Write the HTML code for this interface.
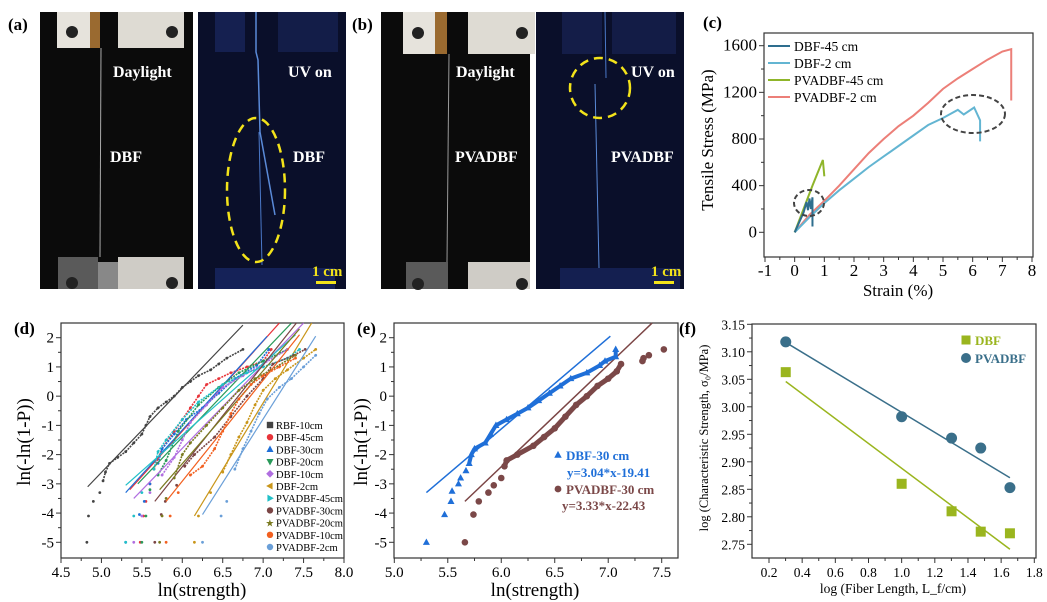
<!DOCTYPE html>
<html><head><meta charset="utf-8"><style>
html,body{margin:0;padding:0;background:#fff;}
svg{display:block;font-family:"Liberation Serif",serif;}
</style></head><body>
<svg id="fig" width="1047" height="602" viewBox="0 0 1047 602" xmlns="http://www.w3.org/2000/svg">
<!-- Photos -->
<g>
<rect x="40" y="12" width="153" height="277" fill="#0b0b0b"/>
<rect x="57" y="12" width="33" height="36" fill="#e6e3dc"/><rect x="90" y="12" width="10" height="36" fill="#9a6a30"/><rect x="118" y="12" width="66" height="36" fill="#dedbd3"/>
<circle cx="72" cy="32" r="6" fill="#222"/><circle cx="172" cy="32" r="6" fill="#222"/>
<rect x="58" y="257" width="40" height="32" fill="#5a5a5a"/><rect x="118" y="257" width="66" height="32" fill="#cfccc6"/><rect x="98" y="262" width="20" height="27" fill="#888"/>
<circle cx="72" cy="283" r="6" fill="#222"/><circle cx="172" cy="283" r="6" fill="#222"/>
<line x1="101" y1="48" x2="100" y2="257" stroke="#aaa" stroke-width="1"/>
<text x="113" y="77" fill="#fff" font-size="16" font-weight="bold">Daylight</text>
<text x="110" y="162" fill="#fff" font-size="16" font-weight="bold">DBF</text>
</g>
<g>
<rect x="198" y="12" width="148" height="277" fill="#0a0f2a"/>
<rect x="215" y="12" width="30" height="40" fill="#152050"/><rect x="278" y="12" width="60" height="40" fill="#131d48"/>
<rect x="215" y="268" width="120" height="21" fill="#152258"/>
<polyline points="256,12 256,52 258,60 260,132 275,215" fill="none" stroke="#5a8ad8" stroke-width="1.5"/>
<line x1="259" y1="132" x2="262" y2="265" stroke="#4a78c8" stroke-width="1"/>
<ellipse cx="256" cy="190" rx="29" ry="72" fill="none" stroke="#f3e31a" stroke-width="2.5" stroke-dasharray="9,6"/>
<text x="288" y="77" fill="#fff" font-size="16" font-weight="bold">UV on</text>
<text x="293" y="162" fill="#fff" font-size="16" font-weight="bold">DBF</text>
<text x="312" y="276" fill="#f3e31a" font-size="15" font-weight="bold">1 cm</text>
<rect x="316" y="281" width="20" height="3" fill="#f3e31a"/>
</g>
<g>
<rect x="381" y="12" width="149" height="277" fill="#0b0b0b"/>
<rect x="403" y="12" width="32" height="42" fill="#e6e3dc"/><rect x="435" y="12" width="12" height="42" fill="#9a6a30"/><rect x="468" y="12" width="67" height="42" fill="#dedbd3"/>
<circle cx="418" cy="33" r="6" fill="#222"/><circle cx="522" cy="33" r="6" fill="#222"/>
<rect x="406" y="262" width="42" height="27" fill="#5a5a5a"/><rect x="468" y="262" width="62" height="27" fill="#cfccc6"/>
<circle cx="418" cy="284" r="6" fill="#222"/><circle cx="522" cy="284" r="6" fill="#222"/>
<line x1="449" y1="54" x2="447" y2="262" stroke="#999" stroke-width="1"/>
<text x="456" y="77" fill="#fff" font-size="16" font-weight="bold">Daylight</text>
<text x="455" y="162" fill="#fff" font-size="16" font-weight="bold">PVADBF</text>
</g>
<g>
<rect x="536" y="12" width="148" height="277" fill="#0a0f2a"/>
<rect x="562" y="12" width="40" height="42" fill="#141d48"/><rect x="612" y="12" width="64" height="42" fill="#131c46"/>
<rect x="560" y="268" width="120" height="21" fill="#141f50"/>
<line x1="605" y1="12" x2="606" y2="78" stroke="#4a78c8" stroke-width="1"/>
<line x1="595" y1="84" x2="599" y2="268" stroke="#5a8ad8" stroke-width="1"/>
<ellipse cx="600" cy="88" rx="30" ry="30" fill="none" stroke="#f3e31a" stroke-width="2.5" stroke-dasharray="9,6"/>
<text x="631" y="77" fill="#fff" font-size="16" font-weight="bold">UV on</text>
<text x="611" y="162" fill="#fff" font-size="16" font-weight="bold">PVADBF</text>
<text x="651" y="276" fill="#f3e31a" font-size="15" font-weight="bold">1 cm</text>
<rect x="654" y="281" width="20" height="3" fill="#f3e31a"/>
</g>
<text x="8" y="30" font-size="17" font-weight="bold">(a)</text>
<text x="352" y="30" font-size="17" font-weight="bold">(b)</text>
<text x="703" y="28" font-size="17" font-weight="bold">(c)</text>
<text x="14" y="334" font-size="17" font-weight="bold">(d)</text>
<text x="357" y="334" font-size="17" font-weight="bold">(e)</text>
<text x="679" y="334" font-size="17" font-weight="bold">(f)</text>
<g id="charts"></g>
</svg>
<script>
// ---- Panel (c) data ----
const cNames = ["DBF-45 cm","DBF-2 cm","PVADBF-45 cm","PVADBF-2 cm"];
const cColors = ["#2e6e8e","#63b5d2","#8fb52a","#ec7f78"];
const cDbf45X = [0,0.3,0.4,0.45,0.5,0.55,0.6,0.6];
const cDbf45Y = [0,170,260,190,290,200,300,50];
const cDbf2X = [0,0.5,1,1.5,2,2.5,3,3.5,4,4.5,5,5.5,5.7,6.05,6.25,6.25];
const cDbf2Y = [0,130,250,360,460,560,650,740,830,920,980,1050,1010,1070,960,780];
const cPva45X = [0,0.3,0.6,0.95,1.0];
const cPva45Y = [0,200,400,620,480];
const cPva2X = [0,0.5,1,1.5,2,2.5,3,3.5,4,4.5,5,5.5,6,6.5,7,7.3,7.3];
const cPva2Y = [0,150,270,400,540,680,800,910,1000,1110,1230,1320,1400,1480,1550,1570,1130];
const cXTicks = [-1,0,1,2,3,4,5,6,7,8];
const cYTicks = [0,400,800,1200,1600];

// ---- Panel (d) data ----
const dNames = ["RBF-10cm","DBF-45cm","DBF-30cm","DBF-20cm","DBF-10cm","DBF-2cm","PVADBF-45cm","PVADBF-30cm","PVADBF-20cm","PVADBF-10cm","PVADBF-2cm"];
const dColors = ["#444444","#e8343a","#1f6fd8","#2a9a5a","#b06ee0","#c9961a","#22c0c8","#7b4545","#7a7a20","#f26020","#6a9fd8"];
const dShapes = ["square","circle","tri","tridown","diamond","trileft","triright","circle","star","circle","circle"];
const dX = [
 [4.82,4.84,4.9,4.98,5.02,5.05,5.1,5.2,5.3,5.4,5.5,5.55,5.6,5.7,5.8,5.9,6.0,6.1,6.2,6.35,6.45,6.55,6.75],
 [5.48,5.52,5.55,5.6,5.65,5.75,5.9,6.0,6.1,6.2,6.3,6.45,6.6,6.8,7.0,7.1],
 [5.3,5.47,5.53,5.6,5.7,5.75,5.9,6.05,6.25,6.45,6.65,6.92,7.07],
 [5.5,5.55,5.6,5.7,5.8,5.95,6.2,6.45,6.7,7.0,7.3],
 [5.4,5.5,5.6,5.75,5.9,6.0,6.1,6.3,6.5,6.75,7.0,7.3],
 [6.15,6.2,6.35,6.5,6.6,6.7,6.8,6.9,7.0,7.15,7.3,7.5,7.65],
 [5.3,5.4,5.5,5.65,5.7,5.8,6.0,6.2,6.5,6.8,7.0,7.3,7.45],
 [5.66,5.74,5.79,5.93,6.03,6.15,6.4,6.6,6.8,7.0,7.12,7.38,7.52],
 [5.72,5.75,5.8,5.9,6.0,6.1,6.3,6.5,6.7,6.9,7.1,7.4],
 [5.8,5.85,5.95,6.1,6.25,6.4,6.5,6.6,6.7,6.85,7.0,7.2,7.4],
 [6.25,6.48,6.55,6.65,6.75,6.85,6.95,7.05,7.2,7.35,7.5,7.65]
];
const dY = [
 [-5,-4.1,-3.6,-3.3,-2.9,-2.6,-2.3,-2.1,-1.9,-1.6,-1.3,-1.0,-0.7,-0.4,-0.2,0,0.3,0.5,0.7,0.9,1.1,1.3,1.6],
 [-5,-4.1,-3.6,-3,-2.5,-1.8,-1.2,-0.8,-0.4,0,0.4,0.6,0.8,1.0,1.2,1.6],
 [-5,-4.05,-3.6,-3.0,-2.3,-1.8,-1.3,-0.8,-0.4,0.1,0.6,1.05,1.6],
 [-5,-4.1,-3.2,-2.7,-2.2,-1.2,-0.3,0.3,0.8,1.2,1.6],
 [-5,-4.1,-3.3,-2.7,-2.1,-1.5,-0.9,-0.3,0.3,0.7,1.1,1.6],
 [-5,-4.1,-3.3,-2.6,-2.0,-1.4,-0.9,-0.3,0.2,0.6,0.9,1.3,1.6],
 [-5,-4.1,-3.3,-2.5,-1.9,-1.5,-0.8,-0.2,0.4,0.8,1.0,1.3,1.6],
 [-5,-4.05,-3.6,-3.05,-2.4,-2.0,-1.4,-0.7,0.0,0.6,1.1,1.4,1.6],
 [-5,-4.1,-3.5,-2.8,-2.0,-1.6,-1.0,-0.4,0.2,0.6,0.9,1.4],
 [-5,-4.1,-3.3,-2.7,-2.4,-1.8,-1.2,-0.6,-0.1,0.4,0.7,1.0,1.3],
 [-5,-4.1,-3.6,-2.5,-1.8,-1.2,-0.6,-0.1,0.3,0.6,1.0,1.4]
];
const dFitX0 = [4.83,5.35,5.3,5.45,5.4,6.15,5.3,5.66,5.72,5.8,6.25];
const dFitY0 = [-3.1,-3.2,-3.3,-3.0,-3.5,-4.1,-3.05,-3.6,-3.2,-3.6,-4.05];
const dFitX1 = [6.75,7.2,7.05,7.35,7.5,7.6,7.4,7.41,7.45,7.45,7.65];
const dFitY1 = [2.43,2.5,2.05,2.5,2.5,2.5,2.1,2.5,2.3,2.1,2.05];
const dXTicks = [4.5,5.0,5.5,6.0,6.5,7.0,7.5,8.0];
const dYTicks = [2,1,0,-1,-2,-3,-4,-5];

// ---- Panel (e) data ----
const eBlueX = [5.3,5.47,5.53,5.54,5.6,5.62,5.67,5.7,5.72,5.75,5.85,5.9,5.95,6.05,6.15,6.25,6.35,6.45,6.55,6.65,6.8,6.92,6.97,7.07,7.07];
const eBlueY = [-5,-4.05,-3.6,-3.25,-3.0,-2.8,-2.55,-2.3,-2.0,-1.8,-1.6,-1.3,-1.0,-0.8,-0.6,-0.4,-0.15,0.1,0.35,0.6,0.8,1.05,1.2,1.35,1.6];
const eBrownX = [5.66,5.74,5.79,5.88,5.93,6.0,6.03,6.05,6.15,6.3,6.4,6.5,6.6,6.7,6.8,6.9,7.0,7.08,7.12,7.32,7.33,7.38,7.52];
const eBrownY = [-5,-4.05,-3.6,-3.3,-3.05,-2.8,-2.4,-2.2,-2.0,-1.7,-1.4,-1.1,-0.7,-0.3,0.0,0.35,0.6,0.85,1.1,1.2,1.3,1.4,1.6];
const eFitBlue = [5.3,-3.3,7.02,2.05];
const eFitBrown = [5.66,-3.6,7.41,2.5];
const eXTicks = [5.0,5.5,6.0,6.5,7.0,7.5];
const eYTicks = [2,1,0,-1,-2,-3,-4,-5];

// ---- Panel (f) data ----
const fLogL = [0.301,1.0,1.301,1.477,1.653];
const fDbf = [3.063,2.86,2.81,2.773,2.77];
const fPva = [3.118,2.982,2.943,2.925,2.853];
const fFitDbf = [3.046,2.741];
const fFitPva = [3.117,2.871];
const fXTicks = [0.2,0.4,0.6,0.8,1.0,1.2,1.4,1.6,1.8];
const fYTicks = [3.15,3.10,3.05,3.00,2.95,2.90,2.85,2.80,2.75];

const NS="http://www.w3.org/2000/svg";
const root=document.getElementById('charts');
function mk(tag,attrs,parent){const e=document.createElementNS(NS,tag);for(const k in attrs)e.setAttribute(k,attrs[k]);(parent||root).appendChild(e);return e;}
function txt(s,attrs,parent){const e=mk('text',attrs,parent);e.textContent=s;return e;}
function lin(d0,d1,r0,r1){return v=>r0+(v-d0)*(r1-r0)/(d1-d0);}

function axesFrame(g,x0,y0,x1,y1,sx,sy,xt,yt,xfmt,yfmt,fs,xminor,yminor){
  mk('rect',{x:x0,y:y0,width:x1-x0,height:y1-y0,fill:'none',stroke:'#333','stroke-width':1.2},g);
  xt.forEach((v,i)=>{const px=sx(v);
    mk('line',{x1:px,y1:y1,x2:px,y2:y1+5,stroke:'#333'},g);
    const t=txt(xfmt(v),{x:px,y:y1+19,'font-size':fs,'text-anchor':'middle'},g);
    
    
    if(xminor&&i<xt.length-1){const m=sx((v+xt[i+1])/2);mk('line',{x1:m,y1:y1,x2:m,y2:y1+3,stroke:'#333'},g);}
  });
  yt.forEach((v,i)=>{const py=sy(v);
    mk('line',{x1:x0-5,y1:py,x2:x0,y2:py,stroke:'#333'},g);
    const t=txt(yfmt(v),{x:x0-7,y:py+5,'font-size':fs,'text-anchor':'end'},g);
    
    
    if(yminor&&i<yt.length-1){const m=sy((v+yt[i+1])/2);mk('line',{x1:x0-3,y1:m,x2:x0,y2:m,stroke:'#333'},g);}
  });
}
function marker(g,shape,x,y,r,color){
  let e;
  if(shape==='square')e=mk('rect',{x:x-r,y:y-r,width:2*r,height:2*r,fill:color},g);
  else if(shape==='circle')e=mk('circle',{cx:x,cy:y,r:r,fill:color},g);
  else if(shape==='tri')e=mk('polygon',{points:`${x},${y-r*1.2} ${x-r*1.1},${y+r*0.8} ${x+r*1.1},${y+r*0.8}`,fill:color},g);
  else if(shape==='tridown')e=mk('polygon',{points:`${x},${y+r*1.2} ${x-r*1.1},${y-r*0.8} ${x+r*1.1},${y-r*0.8}`,fill:color},g);
  else if(shape==='trileft')e=mk('polygon',{points:`${x-r*1.2},${y} ${x+r*0.8},${y-r*1.1} ${x+r*0.8},${y+r*1.1}`,fill:color},g);
  else if(shape==='triright')e=mk('polygon',{points:`${x+r*1.2},${y} ${x-r*0.8},${y-r*1.1} ${x-r*0.8},${y+r*1.1}`,fill:color},g);
  else if(shape==='diamond')e=mk('polygon',{points:`${x},${y-r*1.2} ${x+r*1.2},${y} ${x},${y+r*1.2} ${x-r*1.2},${y}`,fill:color},g);
  else e=mk('text',{x:x,y:y+r*1.2,'font-size':r*3.2,'text-anchor':'middle',fill:color},g),e.textContent='★';
  return e;
}

// ===== Panel c =====
(function(){
  const g=mk('g',{});
  
  
  const sx=lin(-1,8,765,1032), sy=lin(0,1600,232.3,45.7);
  axesFrame(g,764,33,1033,257,sx,sy,cXTicks,cYTicks,v=>String(v),v=>String(v),17,true,true);
  const t1=txt('Strain (%)',{x:898,y:296,'font-size':17,'text-anchor':'middle'},g);
  
  
  const t2=txt('Tensile Stress (MPa)',{x:0,y:0,'font-size':17,'text-anchor':'middle',transform:'translate(713,140) rotate(-90)'},g);
  
  
  const series=[[cPva2X,cPva2Y,3],[cDbf2X,cDbf2Y,1],[cPva45X,cPva45Y,2],[cDbf45X,cDbf45Y,0]];
  series.forEach(([xs,ys,ci])=>{
    const p=mk('polyline',{points:xs.map((x,i)=>sx(x)+','+sy(ys[i])).join(' '),fill:'none',stroke:cColors[ci],'stroke-width':2},g);
    
    
  });
  mk('ellipse',{cx:809,cy:203,rx:15,ry:13,fill:'none',stroke:'#444','stroke-width':2,'stroke-dasharray':'5,3'},g);
  mk('ellipse',{cx:973,cy:114,rx:32,ry:19,fill:'none',stroke:'#444','stroke-width':2,'stroke-dasharray':'5,3'},g);
  cNames.forEach((n,i)=>{const y=46+i*17;
    const le=mk('g',{},g);
    
    
    mk('line',{x1:768,y1:y,x2:790,y2:y,stroke:cColors[i],'stroke-width':2},le);
    txt(n,{x:794,y:y+5,'font-size':13.5},le);
  });
})();

// ===== Panel d =====
(function(){
  const g=mk('g',{});
  
  
  const sx=lin(4.5,8.0,61,344), sy=lin(2,-5,337.7,542.3);
  axesFrame(g,61,323,344,558,sx,sy,dXTicks,dYTicks,v=>v.toFixed(1),v=>String(v),15,true,true);
  const t1=txt('ln(strength)',{x:202,y:596,'font-size':19,'text-anchor':'middle'},g);
  
  
  const t2=txt('ln(-ln(1-P))',{x:0,y:0,'font-size':19,'text-anchor':'middle',transform:'translate(30,442) rotate(-90)'},g);
  
  
  dNames.forEach((n,i)=>{
    const l=mk('line',{x1:sx(dFitX0[i]),y1:sy(dFitY0[i]),x2:sx(dFitX1[i]),y2:sy(dFitY1[i]),stroke:dColors[i],'stroke-width':1.2},g);
    
    
    dX[i].forEach((x,j)=>{
      const m=marker(g,'circle',sx(x),sy(dY[i][j]),1.4,dColors[i]);
      
      
    });
    for(let j=0;j<dX[i].length-1;j++){ if(dY[i][j]>-3){
      mk('line',{x1:sx(dX[i][j]),y1:sy(dY[i][j]),x2:sx(dX[i][j+1]),y2:sy(dY[i][j+1]),stroke:dColors[i],'stroke-width':1.6,'stroke-dasharray':'2,1'},g);}}
    const le=mk('g',{},g);
    
    
    const ly=425+i*12.2;
    marker(le,dShapes[i],270,ly,3.2,dColors[i]);
    txt(n,{x:276,y:ly+4,'font-size':10.5},le);
  });
})();

// ===== Panel e =====
(function(){
  const g=mk('g',{});
  
  
  const sx=lin(5.0,7.5,394.3,661.7), sy=lin(2,-5,337.7,542.3);
  axesFrame(g,394,323,678,558,sx,sy,eXTicks,eYTicks,v=>v.toFixed(1),v=>String(v),15,true,true);
  const t1=txt('ln(strength)',{x:535,y:596,'font-size':19,'text-anchor':'middle'},g);
  
  
  const t2=txt('ln(-ln(1-P))',{x:0,y:0,'font-size':19,'text-anchor':'middle',transform:'translate(367,442) rotate(-90)'},g);
  
  
  const lb=mk('line',{x1:sx(eFitBlue[0]),y1:sy(eFitBlue[1]),x2:sx(eFitBlue[2]),y2:sy(eFitBlue[3]),stroke:'#1f6fd8','stroke-width':1.5},g);
  
  
  const lr=mk('line',{x1:sx(eFitBrown[0]),y1:sy(eFitBrown[1]),x2:sx(eFitBrown[2]),y2:sy(eFitBrown[3]),stroke:'#7b4545','stroke-width':1.5},g);
  
  
  eBlueX.forEach((x,i)=>{const m=marker(g,'tri',sx(x),sy(eBlueY[i]),3.2,'#1f6fd8');
    
    
    if(i<eBlueX.length-1&&eBlueY[i]>-2.5)mk('line',{x1:sx(x),y1:sy(eBlueY[i]),x2:sx(eBlueX[i+1]),y2:sy(eBlueY[i+1]),stroke:'#1f6fd8','stroke-width':4},g);});
  eBrownX.forEach((x,i)=>{const m=marker(g,'circle',sx(x),sy(eBrownY[i]),3.3,'#7b4848');
    
    
    if(i<eBrownX.length-1&&eBrownY[i]>-2.5&&eBrownY[i]<1.1)mk('line',{x1:sx(x),y1:sy(eBrownY[i]),x2:sx(eBrownX[i+1]),y2:sy(eBrownY[i+1]),stroke:'#7b4848','stroke-width':5},g);});
  const le=mk('g',{'font-weight':'bold','font-size':13},g);
  
  
  marker(le,'tri',558,455,3.4,'#1f6fd8');
  txt('DBF-30 cm',{x:566,y:460,fill:'#1f6fd8'},le);
  txt('y=3.04*x-19.41',{x:567,y:477,fill:'#1f6fd8'},le);
  marker(le,'circle',558,489,3.4,'#7b4848');
  txt('PVADBF-30 cm',{x:566,y:494,fill:'#7b4848'},le);
  txt('y=3.33*x-22.43',{x:562,y:510,fill:'#7b4848'},le);
})();

// ===== Panel f =====
(function(){
  const g=mk('g',{});
  
  
  const sx=lin(0.2,1.8,769,1034.3), sy=lin(3.15,2.75,324.3,544.3);
  axesFrame(g,752,324,1036,558,sx,sy,fXTicks,fYTicks,v=>v.toFixed(1),v=>v.toFixed(2),13.5,true,true);
  const t1=txt('log (Fiber Length, L_f/cm)',{x:893,y:593,'font-size':13.5,'text-anchor':'middle'},g);
  
  
  const t2=txt('log (Characteristic Strength, σ₀/MPa)',{x:0,y:0,'font-size':12.5,'text-anchor':'middle',transform:'translate(708,438) rotate(-90)'},g);
  
  
  const x0=fLogL[0],x1=fLogL[fLogL.length-1];
  const l1=mk('line',{x1:sx(x0),y1:sy(fFitPva[0]),x2:sx(x1),y2:sy(fFitPva[1]),stroke:'#3a6f8a','stroke-width':1.5},g);
  
  
  const l2=mk('line',{x1:sx(x0),y1:sy(fFitDbf[0]),x2:sx(x1),y2:sy(fFitDbf[1]),stroke:'#9ab51e','stroke-width':1.5},g);
  
  
  fLogL.forEach((x,i)=>{
    const a=marker(g,'square',sx(x),sy(fDbf[i]),5,'#9ab51e');
    
    
    const b=marker(g,'circle',sx(x),sy(fPva[i]),5.5,'#3a6f8a');
    
    
  });
  const le=mk('g',{'font-weight':'bold','font-size':13},g);
  
  
  marker(le,'square',966,340,4.5,'#9ab51e');
  txt('DBF',{x:975,y:345,fill:'#9ab51e'},le);
  marker(le,'circle',966,358,5,'#3a6f8a');
  txt('PVADBF',{x:975,y:363,fill:'#3a6f8a'},le);
})();
</script>
</body></html>
